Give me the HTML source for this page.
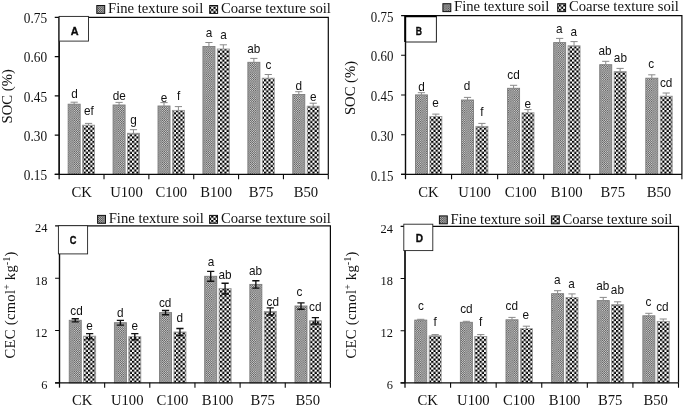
<!DOCTYPE html>
<html lang="en"><head><meta charset="utf-8"><title>SOC and CEC bar charts</title>
<style>
html,body{margin:0;padding:0;background:#fff}
body{width:685px;height:407px;overflow:hidden}
svg{display:block;filter:grayscale(1)}
</style></head><body>
<svg width="685" height="407" viewBox="0 0 685 407">
<defs>
<pattern id="fine" width="2.2" height="2.2" patternUnits="userSpaceOnUse"><rect width="2.2" height="2.2" fill="#dadada"/><rect width="1.1" height="1.1" fill="#505050"/><rect x="1.1" y="1.1" width="1.1" height="1.1" fill="#505050"/></pattern>
<pattern id="coarse" width="4.4" height="4.4" patternUnits="userSpaceOnUse"><rect width="4.4" height="4.4" fill="#fff"/><rect width="2.2" height="2.2" fill="#000"/><rect x="2.2" y="2.2" width="2.2" height="2.2" fill="#000"/></pattern>
<pattern id="finem" width="2.2" height="2.2" patternUnits="userSpaceOnUse"><rect width="2.2" height="2.2" fill="#c4c4c4"/><rect width="1.1" height="1.1" fill="#3c3c3c"/><rect x="1.1" y="1.1" width="1.1" height="1.1" fill="#3c3c3c"/></pattern>
</defs>
<rect width="685" height="407" fill="#fff"/>
<g id="panelA">
<rect x="68.15" y="104.20" width="12.0" height="70.20" fill="url(#fine)" stroke="#7c7c7c" stroke-width="0.9"/>
<rect x="82.55" y="125.20" width="12.0" height="49.20" fill="url(#coarse)" stroke="#9a9a9a" stroke-width="0.9"/>
<path d="M74.15 102.20V104.20M70.55 102.20h7.2" stroke="#8a8a8a" stroke-width="1" fill="none"/>
<path d="M88.55 123.40V125.20M84.95 123.40h7.2" stroke="#8a8a8a" stroke-width="1" fill="none"/>
<rect x="113.08" y="105.00" width="12.0" height="69.40" fill="url(#fine)" stroke="#7c7c7c" stroke-width="0.9"/>
<rect x="127.48" y="133.30" width="12.0" height="41.10" fill="url(#coarse)" stroke="#9a9a9a" stroke-width="0.9"/>
<path d="M119.08 102.40V105.00M115.48 102.40h7.2" stroke="#8a8a8a" stroke-width="1" fill="none"/>
<path d="M133.48 129.70V133.30M129.88 129.70h7.2" stroke="#8a8a8a" stroke-width="1" fill="none"/>
<rect x="158.01" y="106.00" width="12.0" height="68.40" fill="url(#fine)" stroke="#7c7c7c" stroke-width="0.9"/>
<rect x="172.41" y="110.40" width="12.0" height="64.00" fill="url(#coarse)" stroke="#9a9a9a" stroke-width="0.9"/>
<path d="M164.01 102.60V106.00M160.41 102.60h7.2" stroke="#8a8a8a" stroke-width="1" fill="none"/>
<path d="M178.41 106.60V110.40M174.81 106.60h7.2" stroke="#8a8a8a" stroke-width="1" fill="none"/>
<rect x="202.94" y="46.50" width="12.0" height="127.90" fill="url(#fine)" stroke="#7c7c7c" stroke-width="0.9"/>
<rect x="217.34" y="49.00" width="12.0" height="125.40" fill="url(#coarse)" stroke="#9a9a9a" stroke-width="0.9"/>
<path d="M208.94 42.50V46.50M205.34 42.50h7.2" stroke="#8a8a8a" stroke-width="1" fill="none"/>
<path d="M223.34 44.80V49.00M219.74 44.80h7.2" stroke="#8a8a8a" stroke-width="1" fill="none"/>
<rect x="247.87" y="62.30" width="12.0" height="112.10" fill="url(#fine)" stroke="#7c7c7c" stroke-width="0.9"/>
<rect x="262.27" y="78.20" width="12.0" height="96.20" fill="url(#coarse)" stroke="#9a9a9a" stroke-width="0.9"/>
<path d="M253.87 58.40V62.30M250.27 58.40h7.2" stroke="#8a8a8a" stroke-width="1" fill="none"/>
<path d="M268.27 74.50V78.20M264.67 74.50h7.2" stroke="#8a8a8a" stroke-width="1" fill="none"/>
<rect x="292.80" y="94.50" width="12.0" height="79.90" fill="url(#fine)" stroke="#7c7c7c" stroke-width="0.9"/>
<rect x="307.20" y="106.20" width="12.0" height="68.20" fill="url(#coarse)" stroke="#9a9a9a" stroke-width="0.9"/>
<path d="M298.80 91.70V94.50M295.20 91.70h7.2" stroke="#8a8a8a" stroke-width="1" fill="none"/>
<path d="M313.20 103.20V106.20M309.60 103.20h7.2" stroke="#8a8a8a" stroke-width="1" fill="none"/>
<path d="M59.15 174.40V17.40H328.30V174.40" stroke="#0a0a0a" stroke-width="1.2" fill="none"/>
<path d="M54.75 174.40H328.30" stroke="#0a0a0a" stroke-width="1.3" fill="none"/>
<path d="M59.15 179.20V17.40" stroke="#0a0a0a" stroke-width="1.25" fill="none"/>
<text transform="translate(47.20 23.10) scale(1 1.07)" text-anchor="end" font-family='"Liberation Serif", serif' font-size="13.33" fill="#111">0.75</text>
<text transform="translate(47.20 62.35) scale(1 1.07)" text-anchor="end" font-family='"Liberation Serif", serif' font-size="13.33" fill="#111">0.60</text>
<text transform="translate(47.20 101.60) scale(1 1.07)" text-anchor="end" font-family='"Liberation Serif", serif' font-size="13.33" fill="#111">0.45</text>
<text transform="translate(47.20 140.85) scale(1 1.07)" text-anchor="end" font-family='"Liberation Serif", serif' font-size="13.33" fill="#111">0.30</text>
<text transform="translate(47.20 180.10) scale(1 1.07)" text-anchor="end" font-family='"Liberation Serif", serif' font-size="13.33" fill="#111">0.15</text>
<path d="M54.75 17.40H59.15M54.75 56.65H59.15M54.75 95.90H59.15M54.75 135.15H59.15M54.75 174.40H59.15" stroke="#0a0a0a" stroke-width="1.1" fill="none"/>
<path d="M104.01 174.40v4.8M148.87 174.40v4.8M193.73 174.40v4.8M238.58 174.40v4.8M283.44 174.40v4.8M328.30 174.40v4.8" stroke="#0a0a0a" stroke-width="1.1" fill="none"/>
<text x="81.58" y="196.60" text-anchor="middle" font-family='"Liberation Serif", serif' font-size="14.67" fill="#111">CK</text>
<text x="126.44" y="196.60" text-anchor="middle" font-family='"Liberation Serif", serif' font-size="14.67" fill="#111">U100</text>
<text x="171.30" y="196.60" text-anchor="middle" font-family='"Liberation Serif", serif' font-size="14.67" fill="#111">C100</text>
<text x="216.15" y="196.60" text-anchor="middle" font-family='"Liberation Serif", serif' font-size="14.67" fill="#111">B100</text>
<text x="261.01" y="196.60" text-anchor="middle" font-family='"Liberation Serif", serif' font-size="14.67" fill="#111">B75</text>
<text x="305.87" y="196.60" text-anchor="middle" font-family='"Liberation Serif", serif' font-size="14.67" fill="#111">B50</text>
<text transform="translate(12.00 96.30) rotate(-90)" text-anchor="middle" font-family='"Liberation Serif", serif' font-size="14.67" fill="#111">SOC (%)</text>
<rect x="59.15" y="16.40" width="29.35" height="24.70" fill="#fff" stroke="#222" stroke-width="0.9"/>
<text transform="translate(74.60 34.60) scale(0.935 1)" text-anchor="middle" font-family='"Liberation Sans", sans-serif' font-weight="bold" font-size="11.6" fill="#0a0a0a" stroke="#0a0a0a" stroke-width="0.35">A</text>
<rect x="96.80" y="5.50" width="7.9" height="7.9" fill="url(#finem)" stroke="#111" stroke-width="1"/>
<text x="108.00" y="13.00" font-family='"Liberation Serif", serif' font-size="14.67" fill="#111">Fine texture soil</text>
<rect x="209.70" y="5.50" width="7.9" height="7.9" fill="url(#coarse)" stroke="#111" stroke-width="1"/>
<text x="221.00" y="13.00" font-family='"Liberation Serif", serif' font-size="14.67" fill="#111">Coarse texture soil</text>
<text transform="translate(74.40 97.80) scale(0.95 1)" text-anchor="middle" font-family='"Liberation Sans", sans-serif' font-size="12.4" fill="#111">d</text>
<text transform="translate(88.80 115.30) scale(0.95 1)" text-anchor="middle" font-family='"Liberation Sans", sans-serif' font-size="12.4" fill="#111">ef</text>
<text transform="translate(119.20 100.10) scale(0.95 1)" text-anchor="middle" font-family='"Liberation Sans", sans-serif' font-size="12.4" fill="#111">de</text>
<text transform="translate(133.60 123.50) scale(0.95 1)" text-anchor="middle" font-family='"Liberation Sans", sans-serif' font-size="12.4" fill="#111">g</text>
<text transform="translate(164.00 102.00) scale(0.95 1)" text-anchor="middle" font-family='"Liberation Sans", sans-serif' font-size="12.4" fill="#111">e</text>
<text transform="translate(178.70 100.10) scale(0.95 1)" text-anchor="middle" font-family='"Liberation Sans", sans-serif' font-size="12.4" fill="#111">f</text>
<text transform="translate(208.90 37.00) scale(0.95 1)" text-anchor="middle" font-family='"Liberation Sans", sans-serif' font-size="12.4" fill="#111">a</text>
<text transform="translate(223.50 39.30) scale(0.95 1)" text-anchor="middle" font-family='"Liberation Sans", sans-serif' font-size="12.4" fill="#111">a</text>
<text transform="translate(253.80 52.60) scale(0.95 1)" text-anchor="middle" font-family='"Liberation Sans", sans-serif' font-size="12.4" fill="#111">ab</text>
<text transform="translate(268.40 68.90) scale(0.95 1)" text-anchor="middle" font-family='"Liberation Sans", sans-serif' font-size="12.4" fill="#111">c</text>
<text transform="translate(298.70 89.50) scale(0.95 1)" text-anchor="middle" font-family='"Liberation Sans", sans-serif' font-size="12.4" fill="#111">d</text>
<text transform="translate(313.30 101.10) scale(0.95 1)" text-anchor="middle" font-family='"Liberation Sans", sans-serif' font-size="12.4" fill="#111">e</text>
</g>
<g id="panelB">
<rect x="415.45" y="94.90" width="12.0" height="79.50" fill="url(#fine)" stroke="#7c7c7c" stroke-width="0.9"/>
<rect x="429.85" y="116.50" width="12.0" height="57.90" fill="url(#coarse)" stroke="#9a9a9a" stroke-width="0.9"/>
<path d="M421.45 92.70V94.90M417.85 92.70h7.2" stroke="#8a8a8a" stroke-width="1" fill="none"/>
<path d="M435.85 114.10V116.50M432.25 114.10h7.2" stroke="#8a8a8a" stroke-width="1" fill="none"/>
<rect x="461.52" y="100.00" width="12.0" height="74.40" fill="url(#fine)" stroke="#7c7c7c" stroke-width="0.9"/>
<rect x="475.92" y="126.40" width="12.0" height="48.00" fill="url(#coarse)" stroke="#9a9a9a" stroke-width="0.9"/>
<path d="M467.52 97.40V100.00M463.92 97.40h7.2" stroke="#8a8a8a" stroke-width="1" fill="none"/>
<path d="M481.92 123.40V126.40M478.32 123.40h7.2" stroke="#8a8a8a" stroke-width="1" fill="none"/>
<rect x="507.59" y="88.30" width="12.0" height="86.10" fill="url(#fine)" stroke="#7c7c7c" stroke-width="0.9"/>
<rect x="521.99" y="112.80" width="12.0" height="61.60" fill="url(#coarse)" stroke="#9a9a9a" stroke-width="0.9"/>
<path d="M513.59 85.30V88.30M509.99 85.30h7.2" stroke="#8a8a8a" stroke-width="1" fill="none"/>
<path d="M527.99 109.60V112.80M524.39 109.60h7.2" stroke="#8a8a8a" stroke-width="1" fill="none"/>
<rect x="553.66" y="42.60" width="12.0" height="131.80" fill="url(#fine)" stroke="#7c7c7c" stroke-width="0.9"/>
<rect x="568.06" y="45.80" width="12.0" height="128.60" fill="url(#coarse)" stroke="#9a9a9a" stroke-width="0.9"/>
<path d="M559.66 38.40V42.60M556.06 38.40h7.2" stroke="#8a8a8a" stroke-width="1" fill="none"/>
<path d="M574.06 41.60V45.80M570.46 41.60h7.2" stroke="#8a8a8a" stroke-width="1" fill="none"/>
<rect x="599.73" y="64.70" width="12.0" height="109.70" fill="url(#fine)" stroke="#7c7c7c" stroke-width="0.9"/>
<rect x="614.13" y="71.60" width="12.0" height="102.80" fill="url(#coarse)" stroke="#9a9a9a" stroke-width="0.9"/>
<path d="M605.73 61.30V64.70M602.13 61.30h7.2" stroke="#8a8a8a" stroke-width="1" fill="none"/>
<path d="M620.13 68.40V71.60M616.53 68.40h7.2" stroke="#8a8a8a" stroke-width="1" fill="none"/>
<rect x="645.80" y="78.20" width="12.0" height="96.20" fill="url(#fine)" stroke="#7c7c7c" stroke-width="0.9"/>
<rect x="660.20" y="96.20" width="12.0" height="78.20" fill="url(#coarse)" stroke="#9a9a9a" stroke-width="0.9"/>
<path d="M651.80 74.80V78.20M648.20 74.80h7.2" stroke="#8a8a8a" stroke-width="1" fill="none"/>
<path d="M666.20 93.00V96.20M662.60 93.00h7.2" stroke="#8a8a8a" stroke-width="1" fill="none"/>
<path d="M405.50 174.40V15.60H681.90V174.40" stroke="#0a0a0a" stroke-width="1.2" fill="none"/>
<path d="M401.10 174.40H681.90" stroke="#0a0a0a" stroke-width="1.3" fill="none"/>
<path d="M405.50 179.20V15.60" stroke="#0a0a0a" stroke-width="1.25" fill="none"/>
<text transform="translate(393.40 21.70) scale(1 1.07)" text-anchor="end" font-family='"Liberation Serif", serif' font-size="12.9" fill="#111">0.75</text>
<text transform="translate(393.40 61.40) scale(1 1.07)" text-anchor="end" font-family='"Liberation Serif", serif' font-size="12.9" fill="#111">0.60</text>
<text transform="translate(393.40 101.10) scale(1 1.07)" text-anchor="end" font-family='"Liberation Serif", serif' font-size="12.9" fill="#111">0.45</text>
<text transform="translate(393.40 140.80) scale(1 1.07)" text-anchor="end" font-family='"Liberation Serif", serif' font-size="12.9" fill="#111">0.30</text>
<text transform="translate(393.40 180.50) scale(1 1.07)" text-anchor="end" font-family='"Liberation Serif", serif' font-size="12.9" fill="#111">0.15</text>
<path d="M401.10 15.60H405.50M401.10 55.30H405.50M401.10 95.00H405.50M401.10 134.70H405.50M401.10 174.40H405.50" stroke="#0a0a0a" stroke-width="1.1" fill="none"/>
<path d="M451.57 174.40v4.8M497.63 174.40v4.8M543.70 174.40v4.8M589.77 174.40v4.8M635.83 174.40v4.8M681.90 174.40v4.8" stroke="#0a0a0a" stroke-width="1.1" fill="none"/>
<text x="428.53" y="196.60" text-anchor="middle" font-family='"Liberation Serif", serif' font-size="14.67" fill="#111">CK</text>
<text x="474.60" y="196.60" text-anchor="middle" font-family='"Liberation Serif", serif' font-size="14.67" fill="#111">U100</text>
<text x="520.67" y="196.60" text-anchor="middle" font-family='"Liberation Serif", serif' font-size="14.67" fill="#111">C100</text>
<text x="566.73" y="196.60" text-anchor="middle" font-family='"Liberation Serif", serif' font-size="14.67" fill="#111">B100</text>
<text x="612.80" y="196.60" text-anchor="middle" font-family='"Liberation Serif", serif' font-size="14.67" fill="#111">B75</text>
<text x="658.87" y="196.60" text-anchor="middle" font-family='"Liberation Serif", serif' font-size="14.67" fill="#111">B50</text>
<text transform="translate(354.70 88.00) rotate(-90)" text-anchor="middle" font-family='"Liberation Serif", serif' font-size="14.67" fill="#111">SOC (%)</text>
<rect x="405.50" y="16.20" width="30.90" height="25.80" fill="#fff" stroke="#222" stroke-width="1.0"/>
<path d="M405.20 42.00V16.20H436.40" stroke="#000" stroke-width="2" fill="none"/>
<text transform="translate(418.90 34.80) scale(0.79 1)" text-anchor="middle" font-family='"Liberation Sans", sans-serif' font-weight="bold" font-size="10.9" fill="#0a0a0a" stroke="#0a0a0a" stroke-width="0.35">B</text>
<rect x="442.90" y="3.70" width="7.9" height="7.9" fill="url(#finem)" stroke="#111" stroke-width="1"/>
<text x="454.00" y="11.20" font-family='"Liberation Serif", serif' font-size="14.67" fill="#111">Fine texture soil</text>
<rect x="557.70" y="3.70" width="7.9" height="7.9" fill="url(#coarse)" stroke="#111" stroke-width="1"/>
<text x="569.00" y="11.20" font-family='"Liberation Serif", serif' font-size="14.67" fill="#111">Coarse texture soil</text>
<text transform="translate(421.60 90.50) scale(0.95 1)" text-anchor="middle" font-family='"Liberation Sans", sans-serif' font-size="12.4" fill="#111">d</text>
<text transform="translate(435.60 107.00) scale(0.95 1)" text-anchor="middle" font-family='"Liberation Sans", sans-serif' font-size="12.4" fill="#111">e</text>
<text transform="translate(467.10 89.80) scale(0.95 1)" text-anchor="middle" font-family='"Liberation Sans", sans-serif' font-size="12.4" fill="#111">d</text>
<text transform="translate(481.80 116.30) scale(0.95 1)" text-anchor="middle" font-family='"Liberation Sans", sans-serif' font-size="12.4" fill="#111">f</text>
<text transform="translate(513.50 78.70) scale(0.95 1)" text-anchor="middle" font-family='"Liberation Sans", sans-serif' font-size="12.4" fill="#111">cd</text>
<text transform="translate(527.80 107.70) scale(0.95 1)" text-anchor="middle" font-family='"Liberation Sans", sans-serif' font-size="12.4" fill="#111">e</text>
<text transform="translate(559.20 33.30) scale(0.95 1)" text-anchor="middle" font-family='"Liberation Sans", sans-serif' font-size="12.4" fill="#111">a</text>
<text transform="translate(573.70 36.30) scale(0.95 1)" text-anchor="middle" font-family='"Liberation Sans", sans-serif' font-size="12.4" fill="#111">a</text>
<text transform="translate(605.10 55.40) scale(0.95 1)" text-anchor="middle" font-family='"Liberation Sans", sans-serif' font-size="12.4" fill="#111">ab</text>
<text transform="translate(620.40 62.10) scale(0.95 1)" text-anchor="middle" font-family='"Liberation Sans", sans-serif' font-size="12.4" fill="#111">ab</text>
<text transform="translate(651.30 68.20) scale(0.95 1)" text-anchor="middle" font-family='"Liberation Sans", sans-serif' font-size="12.4" fill="#111">c</text>
<text transform="translate(666.10 86.70) scale(0.95 1)" text-anchor="middle" font-family='"Liberation Sans", sans-serif' font-size="12.4" fill="#111">cd</text>
</g>
<g id="panelC">
<rect x="69.25" y="320.30" width="12.0" height="62.55" fill="url(#fine)" stroke="#7c7c7c" stroke-width="0.9"/>
<rect x="83.65" y="336.20" width="12.0" height="46.65" fill="url(#coarse)" stroke="#9a9a9a" stroke-width="0.9"/>
<path d="M75.25 318.70V321.90M71.65 318.70h7.2M71.65 321.90h7.2" stroke="#111" stroke-width="1.35" fill="none"/>
<path d="M89.65 333.60V338.80M86.05 333.60h7.2M86.05 338.80h7.2" stroke="#111" stroke-width="1.35" fill="none"/>
<rect x="114.40" y="322.70" width="12.0" height="60.15" fill="url(#fine)" stroke="#7c7c7c" stroke-width="0.9"/>
<rect x="128.80" y="336.70" width="12.0" height="46.15" fill="url(#coarse)" stroke="#9a9a9a" stroke-width="0.9"/>
<path d="M120.40 320.30V325.10M116.80 320.30h7.2M116.80 325.10h7.2" stroke="#111" stroke-width="1.35" fill="none"/>
<path d="M134.80 333.60V339.80M131.20 333.60h7.2M131.20 339.80h7.2" stroke="#111" stroke-width="1.35" fill="none"/>
<rect x="159.55" y="312.60" width="12.0" height="70.25" fill="url(#fine)" stroke="#7c7c7c" stroke-width="0.9"/>
<rect x="173.95" y="332.00" width="12.0" height="50.85" fill="url(#coarse)" stroke="#9a9a9a" stroke-width="0.9"/>
<path d="M165.55 310.50V314.70M161.95 310.50h7.2M161.95 314.70h7.2" stroke="#111" stroke-width="1.35" fill="none"/>
<path d="M179.95 328.50V335.50M176.35 328.50h7.2M176.35 335.50h7.2" stroke="#111" stroke-width="1.35" fill="none"/>
<rect x="204.70" y="276.30" width="12.0" height="106.55" fill="url(#fine)" stroke="#7c7c7c" stroke-width="0.9"/>
<rect x="219.10" y="288.60" width="12.0" height="94.25" fill="url(#coarse)" stroke="#9a9a9a" stroke-width="0.9"/>
<path d="M210.70 271.40V281.20M207.10 271.40h7.2M207.10 281.20h7.2" stroke="#111" stroke-width="1.35" fill="none"/>
<path d="M225.10 283.20V294.00M221.50 283.20h7.2M221.50 294.00h7.2" stroke="#111" stroke-width="1.35" fill="none"/>
<rect x="249.85" y="284.40" width="12.0" height="98.45" fill="url(#fine)" stroke="#7c7c7c" stroke-width="0.9"/>
<rect x="264.25" y="311.40" width="12.0" height="71.45" fill="url(#coarse)" stroke="#9a9a9a" stroke-width="0.9"/>
<path d="M255.85 280.70V288.10M252.25 280.70h7.2M252.25 288.10h7.2" stroke="#111" stroke-width="1.35" fill="none"/>
<path d="M270.25 307.80V315.00M266.65 307.80h7.2M266.65 315.00h7.2" stroke="#111" stroke-width="1.35" fill="none"/>
<rect x="295.00" y="306.00" width="12.0" height="76.85" fill="url(#fine)" stroke="#7c7c7c" stroke-width="0.9"/>
<rect x="309.40" y="320.80" width="12.0" height="62.05" fill="url(#coarse)" stroke="#9a9a9a" stroke-width="0.9"/>
<path d="M301.00 302.80V309.20M297.40 302.80h7.2M297.40 309.20h7.2" stroke="#111" stroke-width="1.35" fill="none"/>
<path d="M315.40 317.60V324.00M311.80 317.60h7.2M311.80 324.00h7.2" stroke="#111" stroke-width="1.35" fill="none"/>
<path d="M59.50 382.85V225.85H330.40V382.85" stroke="#0a0a0a" stroke-width="1.2" fill="none"/>
<path d="M55.10 382.85H330.40" stroke="#0a0a0a" stroke-width="1.3" fill="none"/>
<path d="M59.50 387.65V225.85" stroke="#0a0a0a" stroke-width="1.25" fill="none"/>
<text transform="translate(47.50 232.45) scale(1 1.07)" text-anchor="end" font-family='"Liberation Serif", serif' font-size="12.4" fill="#111">24</text>
<text transform="translate(47.50 284.78) scale(1 1.07)" text-anchor="end" font-family='"Liberation Serif", serif' font-size="12.4" fill="#111">18</text>
<text transform="translate(47.50 337.12) scale(1 1.07)" text-anchor="end" font-family='"Liberation Serif", serif' font-size="12.4" fill="#111">12</text>
<text transform="translate(47.50 389.45) scale(1 1.07)" text-anchor="end" font-family='"Liberation Serif", serif' font-size="12.4" fill="#111">6</text>
<path d="M55.10 225.85H59.50M55.10 278.18H59.50M55.10 330.52H59.50M55.10 382.85H59.50" stroke="#0a0a0a" stroke-width="1.1" fill="none"/>
<path d="M104.65 382.85v4.8M149.80 382.85v4.8M194.95 382.85v4.8M240.10 382.85v4.8M285.25 382.85v4.8M330.40 382.85v4.8" stroke="#0a0a0a" stroke-width="1.1" fill="none"/>
<text x="82.08" y="404.50" text-anchor="middle" font-family='"Liberation Serif", serif' font-size="14.67" fill="#111">CK</text>
<text x="127.22" y="404.50" text-anchor="middle" font-family='"Liberation Serif", serif' font-size="14.67" fill="#111">U100</text>
<text x="172.38" y="404.50" text-anchor="middle" font-family='"Liberation Serif", serif' font-size="14.67" fill="#111">C100</text>
<text x="217.53" y="404.50" text-anchor="middle" font-family='"Liberation Serif", serif' font-size="14.67" fill="#111">B100</text>
<text x="262.67" y="404.50" text-anchor="middle" font-family='"Liberation Serif", serif' font-size="14.67" fill="#111">B75</text>
<text x="307.82" y="404.50" text-anchor="middle" font-family='"Liberation Serif", serif' font-size="14.67" fill="#111">B50</text>
<text transform="translate(15.30 304.90) rotate(-90)" text-anchor="middle" font-family='"Liberation Serif", serif' font-size="14.67" fill="#111" letter-spacing="0.27">CEC (cmol<tspan font-size="9.5" dy="-5">+</tspan><tspan dy="5"> kg</tspan><tspan font-size="9.5" dy="-5">-1</tspan><tspan dy="5">)</tspan></text>
<rect x="58.40" y="225.70" width="29.20" height="28.20" fill="#fff" stroke="#222" stroke-width="0.9"/>
<text transform="translate(73.10 243.80) scale(0.85 1)" text-anchor="middle" font-family='"Liberation Sans", sans-serif' font-weight="bold" font-size="10.9" fill="#0a0a0a" stroke="#0a0a0a" stroke-width="0.35">C</text>
<rect x="97.60" y="215.40" width="7.9" height="7.9" fill="url(#finem)" stroke="#111" stroke-width="1"/>
<text x="108.70" y="223.40" font-family='"Liberation Serif", serif' font-size="14.67" fill="#111">Fine texture soil</text>
<rect x="209.60" y="215.40" width="7.9" height="7.9" fill="url(#coarse)" stroke="#111" stroke-width="1"/>
<text x="221.00" y="223.40" font-family='"Liberation Serif", serif' font-size="14.67" fill="#111">Coarse texture soil</text>
<text transform="translate(76.50 314.80) scale(0.95 1)" text-anchor="middle" font-family='"Liberation Sans", sans-serif' font-size="12.4" fill="#111">cd</text>
<text transform="translate(89.50 329.50) scale(0.95 1)" text-anchor="middle" font-family='"Liberation Sans", sans-serif' font-size="12.4" fill="#111">e</text>
<text transform="translate(120.30 317.10) scale(0.95 1)" text-anchor="middle" font-family='"Liberation Sans", sans-serif' font-size="12.4" fill="#111">d</text>
<text transform="translate(134.80 330.00) scale(0.95 1)" text-anchor="middle" font-family='"Liberation Sans", sans-serif' font-size="12.4" fill="#111">e</text>
<text transform="translate(165.10 307.30) scale(0.95 1)" text-anchor="middle" font-family='"Liberation Sans", sans-serif' font-size="12.4" fill="#111">cd</text>
<text transform="translate(179.80 321.80) scale(0.95 1)" text-anchor="middle" font-family='"Liberation Sans", sans-serif' font-size="12.4" fill="#111">d</text>
<text transform="translate(210.90 265.50) scale(0.95 1)" text-anchor="middle" font-family='"Liberation Sans", sans-serif' font-size="12.4" fill="#111">a</text>
<text transform="translate(225.10 278.60) scale(0.95 1)" text-anchor="middle" font-family='"Liberation Sans", sans-serif' font-size="12.4" fill="#111">ab</text>
<text transform="translate(255.60 274.90) scale(0.95 1)" text-anchor="middle" font-family='"Liberation Sans", sans-serif' font-size="12.4" fill="#111">ab</text>
<text transform="translate(272.80 305.60) scale(0.95 1)" text-anchor="middle" font-family='"Liberation Sans", sans-serif' font-size="12.4" fill="#111">cd</text>
<text transform="translate(299.40 296.30) scale(0.95 1)" text-anchor="middle" font-family='"Liberation Sans", sans-serif' font-size="12.4" fill="#111">c</text>
<text transform="translate(315.30 311.00) scale(0.95 1)" text-anchor="middle" font-family='"Liberation Sans", sans-serif' font-size="12.4" fill="#111">cd</text>
</g>
<g id="panelD">
<rect x="414.75" y="320.10" width="12.0" height="62.75" fill="url(#fine)" stroke="#7c7c7c" stroke-width="0.9"/>
<rect x="429.15" y="335.80" width="12.0" height="47.05" fill="url(#coarse)" stroke="#9a9a9a" stroke-width="0.9"/>
<path d="M420.75 319.30V320.10M417.15 319.30h7.2" stroke="#8a8a8a" stroke-width="1" fill="none"/>
<path d="M435.15 334.60V335.80M431.55 334.60h7.2" stroke="#8a8a8a" stroke-width="1" fill="none"/>
<rect x="460.37" y="322.30" width="12.0" height="60.55" fill="url(#fine)" stroke="#7c7c7c" stroke-width="0.9"/>
<rect x="474.77" y="336.50" width="12.0" height="46.35" fill="url(#coarse)" stroke="#9a9a9a" stroke-width="0.9"/>
<path d="M466.37 321.30V322.30M462.77 321.30h7.2" stroke="#8a8a8a" stroke-width="1" fill="none"/>
<path d="M480.77 334.60V336.50M477.17 334.60h7.2" stroke="#8a8a8a" stroke-width="1" fill="none"/>
<rect x="505.99" y="319.80" width="12.0" height="63.05" fill="url(#fine)" stroke="#7c7c7c" stroke-width="0.9"/>
<rect x="520.39" y="328.70" width="12.0" height="54.15" fill="url(#coarse)" stroke="#9a9a9a" stroke-width="0.9"/>
<path d="M511.99 317.40V319.80M508.39 317.40h7.2" stroke="#8a8a8a" stroke-width="1" fill="none"/>
<path d="M526.39 326.20V328.70M522.79 326.20h7.2" stroke="#8a8a8a" stroke-width="1" fill="none"/>
<rect x="551.61" y="293.70" width="12.0" height="89.15" fill="url(#fine)" stroke="#7c7c7c" stroke-width="0.9"/>
<rect x="566.01" y="297.60" width="12.0" height="85.25" fill="url(#coarse)" stroke="#9a9a9a" stroke-width="0.9"/>
<path d="M557.61 290.70V293.70M554.01 290.70h7.2" stroke="#8a8a8a" stroke-width="1" fill="none"/>
<path d="M572.01 293.90V297.60M568.41 293.90h7.2" stroke="#8a8a8a" stroke-width="1" fill="none"/>
<rect x="597.23" y="300.60" width="12.0" height="82.25" fill="url(#fine)" stroke="#7c7c7c" stroke-width="0.9"/>
<rect x="611.63" y="304.70" width="12.0" height="78.15" fill="url(#coarse)" stroke="#9a9a9a" stroke-width="0.9"/>
<path d="M603.23 297.40V300.60M599.63 297.40h7.2" stroke="#8a8a8a" stroke-width="1" fill="none"/>
<path d="M617.63 301.80V304.70M614.03 301.80h7.2" stroke="#8a8a8a" stroke-width="1" fill="none"/>
<rect x="642.85" y="315.80" width="12.0" height="67.05" fill="url(#fine)" stroke="#7c7c7c" stroke-width="0.9"/>
<rect x="657.25" y="321.40" width="12.0" height="61.45" fill="url(#coarse)" stroke="#9a9a9a" stroke-width="0.9"/>
<path d="M648.85 313.30V315.80M645.25 313.30h7.2" stroke="#8a8a8a" stroke-width="1" fill="none"/>
<path d="M663.25 319.00V321.40M659.65 319.00h7.2" stroke="#8a8a8a" stroke-width="1" fill="none"/>
<path d="M405.00 382.85V226.40H678.50V382.85" stroke="#0a0a0a" stroke-width="1.2" fill="none"/>
<path d="M400.60 382.85H678.50" stroke="#0a0a0a" stroke-width="1.3" fill="none"/>
<path d="M405.00 387.65V226.40" stroke="#0a0a0a" stroke-width="1.25" fill="none"/>
<text transform="translate(393.00 233.00) scale(1 1.07)" text-anchor="end" font-family='"Liberation Serif", serif' font-size="12.4" fill="#111">24</text>
<text transform="translate(393.00 285.15) scale(1 1.07)" text-anchor="end" font-family='"Liberation Serif", serif' font-size="12.4" fill="#111">18</text>
<text transform="translate(393.00 337.30) scale(1 1.07)" text-anchor="end" font-family='"Liberation Serif", serif' font-size="12.4" fill="#111">12</text>
<text transform="translate(393.00 389.45) scale(1 1.07)" text-anchor="end" font-family='"Liberation Serif", serif' font-size="12.4" fill="#111">6</text>
<path d="M400.60 226.40H405.00M400.60 278.55H405.00M400.60 330.70H405.00M400.60 382.85H405.00" stroke="#0a0a0a" stroke-width="1.1" fill="none"/>
<path d="M450.58 382.85v4.8M496.17 382.85v4.8M541.75 382.85v4.8M587.33 382.85v4.8M632.92 382.85v4.8M678.50 382.85v4.8" stroke="#0a0a0a" stroke-width="1.1" fill="none"/>
<text x="427.79" y="404.50" text-anchor="middle" font-family='"Liberation Serif", serif' font-size="14.67" fill="#111">CK</text>
<text x="473.38" y="404.50" text-anchor="middle" font-family='"Liberation Serif", serif' font-size="14.67" fill="#111">U100</text>
<text x="518.96" y="404.50" text-anchor="middle" font-family='"Liberation Serif", serif' font-size="14.67" fill="#111">C100</text>
<text x="564.54" y="404.50" text-anchor="middle" font-family='"Liberation Serif", serif' font-size="14.67" fill="#111">B100</text>
<text x="610.12" y="404.50" text-anchor="middle" font-family='"Liberation Serif", serif' font-size="14.67" fill="#111">B75</text>
<text x="655.71" y="404.50" text-anchor="middle" font-family='"Liberation Serif", serif' font-size="14.67" fill="#111">B50</text>
<text transform="translate(356.00 304.90) rotate(-90)" text-anchor="middle" font-family='"Liberation Serif", serif' font-size="14.67" fill="#111" letter-spacing="0.27">CEC (cmol<tspan font-size="9.5" dy="-5">+</tspan><tspan dy="5"> kg</tspan><tspan font-size="9.5" dy="-5">-1</tspan><tspan dy="5">)</tspan></text>
<rect x="403.80" y="224.20" width="29.00" height="26.40" fill="#fff" stroke="#222" stroke-width="0.9"/>
<text transform="translate(419.40 242.30) scale(0.93 1)" text-anchor="middle" font-family='"Liberation Sans", sans-serif' font-weight="bold" font-size="10.9" fill="#0a0a0a" stroke="#0a0a0a" stroke-width="0.35">D</text>
<rect x="439.40" y="215.90" width="7.9" height="7.9" fill="url(#finem)" stroke="#111" stroke-width="1"/>
<text x="450.40" y="223.60" font-family='"Liberation Serif", serif' font-size="14.67" fill="#111">Fine texture soil</text>
<rect x="551.40" y="215.90" width="7.9" height="7.9" fill="url(#coarse)" stroke="#111" stroke-width="1"/>
<text x="562.50" y="223.60" font-family='"Liberation Serif", serif' font-size="14.67" fill="#111">Coarse texture soil</text>
<text transform="translate(420.90 310.30) scale(0.95 1)" text-anchor="middle" font-family='"Liberation Sans", sans-serif' font-size="12.4" fill="#111">c</text>
<text transform="translate(435.10 325.80) scale(0.95 1)" text-anchor="middle" font-family='"Liberation Sans", sans-serif' font-size="12.4" fill="#111">f</text>
<text transform="translate(466.40 313.00) scale(0.95 1)" text-anchor="middle" font-family='"Liberation Sans", sans-serif' font-size="12.4" fill="#111">cd</text>
<text transform="translate(480.60 326.30) scale(0.95 1)" text-anchor="middle" font-family='"Liberation Sans", sans-serif' font-size="12.4" fill="#111">f</text>
<text transform="translate(511.80 309.80) scale(0.95 1)" text-anchor="middle" font-family='"Liberation Sans", sans-serif' font-size="12.4" fill="#111">cd</text>
<text transform="translate(525.80 318.90) scale(0.95 1)" text-anchor="middle" font-family='"Liberation Sans", sans-serif' font-size="12.4" fill="#111">e</text>
<text transform="translate(557.20 284.10) scale(0.95 1)" text-anchor="middle" font-family='"Liberation Sans", sans-serif' font-size="12.4" fill="#111">a</text>
<text transform="translate(571.50 288.10) scale(0.95 1)" text-anchor="middle" font-family='"Liberation Sans", sans-serif' font-size="12.4" fill="#111">a</text>
<text transform="translate(602.70 290.30) scale(0.95 1)" text-anchor="middle" font-family='"Liberation Sans", sans-serif' font-size="12.4" fill="#111">ab</text>
<text transform="translate(617.40 294.20) scale(0.95 1)" text-anchor="middle" font-family='"Liberation Sans", sans-serif' font-size="12.4" fill="#111">ab</text>
<text transform="translate(648.40 306.30) scale(0.95 1)" text-anchor="middle" font-family='"Liberation Sans", sans-serif' font-size="12.4" fill="#111">c</text>
<text transform="translate(662.40 311.40) scale(0.95 1)" text-anchor="middle" font-family='"Liberation Sans", sans-serif' font-size="12.4" fill="#111">cd</text>
</g>
</svg>
</body></html>
